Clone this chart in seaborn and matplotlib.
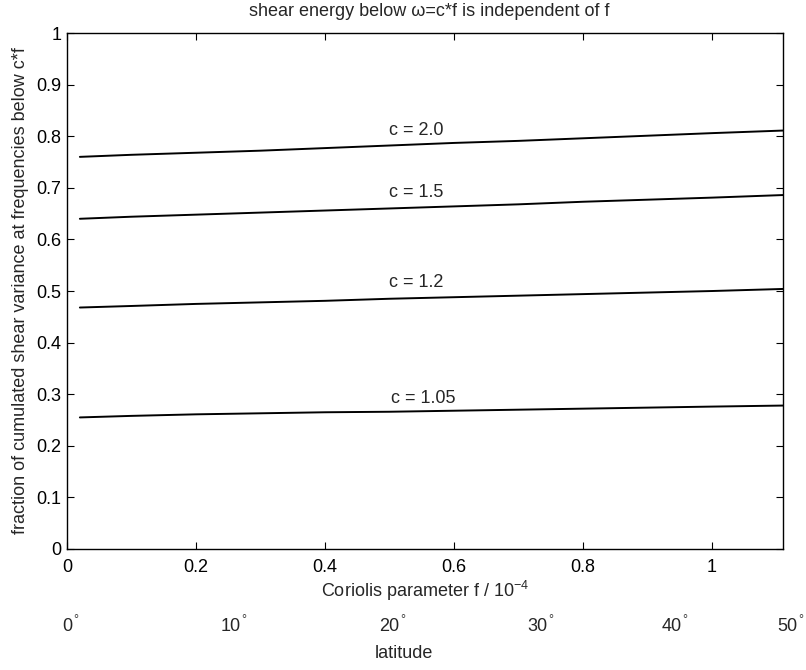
import numpy as np
import pandas as pd
import matplotlib
matplotlib.use("Agg")
import matplotlib.pyplot as plt
import matplotlib.transforms as mtransforms
import seaborn as sns

# ---- data ----
f_vals = [0.02, 0.1, 0.2, 0.3, 0.4, 0.5, 0.6, 0.7, 0.8, 0.9, 1.0, 1.11]
c20 = [0.760, 0.764, 0.768, 0.772, 0.777, 0.782, 0.787, 0.791, 0.796, 0.801, 0.806, 0.811]
c15 = [0.640, 0.644, 0.648, 0.652, 0.656, 0.660, 0.664, 0.668, 0.673, 0.677, 0.681, 0.686]
c12 = [0.468, 0.471, 0.475, 0.478, 0.481, 0.485, 0.488, 0.491, 0.494, 0.497, 0.500, 0.504]
c105 = [0.255, 0.258, 0.261, 0.263, 0.265, 0.266, 0.268, 0.270, 0.272, 0.274, 0.276, 0.278]
series_names = ["c = 2.0", "c = 1.5", "c = 1.2", "c = 1.05"]
label_x = [0.541, 0.541, 0.541, 0.552]
label_y = [0.812, 0.690, 0.517, 0.291]
y_ticks = [0, 0.1, 0.2, 0.3, 0.4, 0.5, 0.6, 0.7, 0.8, 0.9, 1]
y_ticklabels = ["0", "0.1", "0.2", "0.3", "0.4", "0.5", "0.6", "0.7", "0.8", "0.9", "1"]
x_ticks = [0, 0.2, 0.4, 0.6, 0.8, 1.0]
x_ticklabels = ["0", "0.2", "0.4", "0.6", "0.8", "1"]
lat_ticks = [0, 10, 20, 30, 40, 50]
OMEGA2 = 2 * 0.7292  # 2*Omega in 1e-4 s^-1

df = pd.concat([
    pd.DataFrame({"f": f_vals, "frac": vals, "series": name})
    for name, vals in zip(series_names, [c20, c15, c12, c105])
])

sns.set_style("ticks")
plt.rcParams["font.family"] = ["Liberation Sans", "DejaVu Sans"]
plt.rcParams["mathtext.fontset"] = "custom"
plt.rcParams["mathtext.rm"] = "Liberation Sans"
plt.rcParams["mathtext.it"] = "Liberation Sans"

FS = 13
fig = plt.figure(figsize=(8.06, 6.70), dpi=100)
ax = fig.add_axes([0.0831, 0.1806, 0.8884, 0.7701])

sns.lineplot(data=df, x="f", y="frac", units="series", estimator=None,
             color="black", linewidth=1.4, ax=ax, legend=False)

for name, lx, ly in zip(series_names, label_x, label_y):
    ax.text(lx, ly, name, ha="center", va="center", fontsize=FS)

ax.set_xlim(0, 1.11)
ax.set_ylim(0, 1)
ax.set_xticks(x_ticks)
ax.set_xticklabels(x_ticklabels)
ax.set_yticks(y_ticks)
ax.set_yticklabels(y_ticklabels)
ax.tick_params(direction="in", length=5, width=0.8, top=True, right=True,
               labelsize=FS, colors="black")
ax.tick_params(axis="x", pad=7)
ax.tick_params(axis="y", pad=4)
for s in ax.spines.values():
    s.set_visible(True)
    s.set_linewidth(1.0)
    s.set_color("black")

ax.set_xlabel(r"Coriolis parameter f / 10$^{-4}$", fontsize=FS, labelpad=2)
ax.set_ylabel("fraction of cumulated shear variance at frequencies below c*f",
              fontsize=FS, labelpad=5)
fig.text(429 / 806, 1 - 12 / 670, "shear energy below \u03c9=c*f is independent of f",
         ha="center", va="center", fontsize=FS)

# latitude scale (second x axis drawn as labels below)
trans = mtransforms.blended_transform_factory(ax.transData, ax.transAxes)
for lat in lat_ticks:
    fpos = OMEGA2 * np.sin(np.deg2rad(lat))
    ax.text(fpos, -0.151, str(lat), transform=trans, ha="center", va="center",
            fontsize=FS, clip_on=False)
    ax.annotate("\u00b0", xy=(fpos, -0.151), xycoords=trans,
                xytext=(0.556 * FS * len(str(lat)) / 2 + 2.5, 5), textcoords="offset points",
                ha="center", va="center", fontsize=9, color="#333333",
                annotation_clip=False)
fig.text(404 / 806, 1 - 654 / 670, "latitude", ha="center", va="center", fontsize=FS)

fig.savefig("out.png", dpi=100, facecolor="white")
